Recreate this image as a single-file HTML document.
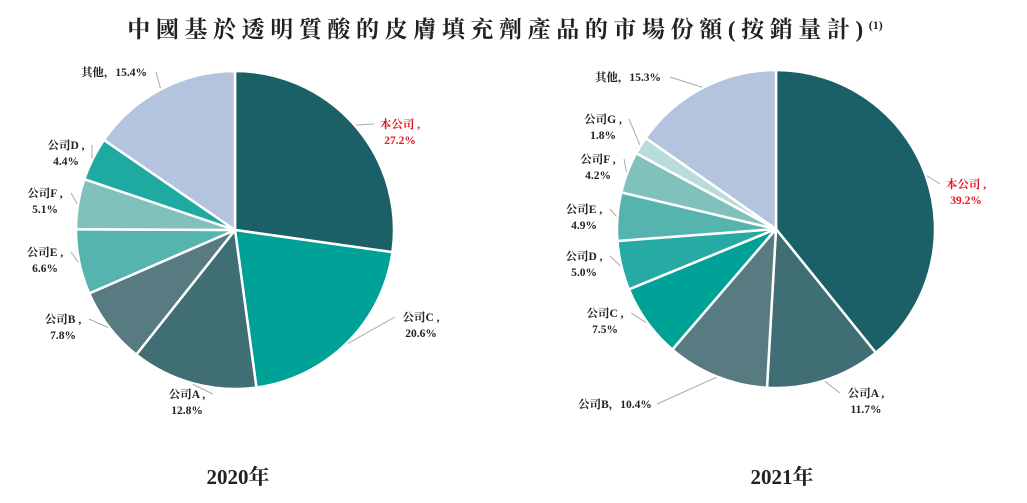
<!DOCTYPE html>
<html><head><meta charset="utf-8"><style>
body{margin:0;background:#fff;width:1027px;height:498px;overflow:hidden}
svg text{font-family:"Liberation Serif","Noto Serif CJK SC","Noto Sans CJK SC",serif;font-weight:bold}
</style></head><body>
<svg id="chart" width="1027" height="498" viewBox="0 0 1027 498">
<text x="505" y="37" text-anchor="middle" font-size="23" fill="#222" letter-spacing="5.6">中國基於透明質酸的皮膚填充劑產品的市場份額(按銷量計)<tspan font-size="12" dy="-8" letter-spacing="0">(1)</tspan></text>
<text x="238" y="484" text-anchor="middle" font-size="21" fill="#222">2020年</text>
<text x="782" y="484" text-anchor="middle" font-size="21" fill="#222">2021年</text>
<g id="pie1"></g>
<g id="pie2"></g>
</svg>
<script>
const names2020=["本公司","公司C","公司A","公司B","公司E","公司F","公司D","其他"];
const values2020=[27.2,20.6,12.8,7.8,6.6,5.1,4.4,15.4];
const names2021=["本公司","公司A","公司B","公司C","公司D","公司E","公司F","公司G","其他"];
const values2021=[39.2,11.7,10.4,7.5,5.0,4.9,4.2,1.8,15.3];

const colors2020=["#1b5f67","#00a196","#3f6e74","#577b80","#55b5ae","#80c1bc","#1ea9a1","#b4c3de"];
const colors2021=["#1b5f67","#3f6e74","#577b80","#00a196","#27aaa3","#55b5ae","#80c1bc","#b8dcd9","#b4c3de"];
// label layout: [x, y, oneLine]
const lab2020=[[400,128,0],[421,321,0],[187,398,0],[63,323,0],[45,256,0],[45,197,0],[66,149,0],[114,76,1]];
const lab2021=[[966,188,0],[866,397,0],[615,408,1],[605,317,0],[584,260,0],[584,213,0],[598,163,0],[603,123,0],[628,81,1]];
const NS="http://www.w3.org/2000/svg";
function el(t,a,p){const e=document.createElementNS(NS,t);for(const k in a)e.setAttribute(k,a[k]);p.appendChild(e);return e;}
function drawPie(g,names,vals,cols,labs,cx,cy,r,key){
  const tot=vals.reduce((a,b)=>a+b,0);let a0=-Math.PI/2;
  vals.forEach((v,i)=>{
    const a1=a0+v/tot*2*Math.PI;
    const x0=cx+r*Math.cos(a0),y0=cy+r*Math.sin(a0),x1=cx+r*Math.cos(a1),y1=cy+r*Math.sin(a1);
    const big=(a1-a0)>Math.PI?1:0;
    const p=el('path',{d:`M${cx},${cy}L${x0},${y0}A${r},${r} 0 ${big} 1 ${x1},${y1}Z`,fill:cols[i],stroke:'#fff','stroke-width':2.5},g);
    
    
    const am=(a0+a1)/2,L=labs[i];
    const ax=cx+(r+1)*Math.cos(am),ay=cy+(r+1)*Math.sin(am);
    const left=Math.cos(am)<0;
    const half=L[2]?42:26;
    const lx=L[0]+(left?half:-half),ly=L[1]+(L[2]?-4:-4);
    const ln=el('polyline',{points:`${ax},${ay} ${lx},${ly}`,fill:'none',stroke:'#aaa','stroke-width':1},g);
    
    
    const red=i===0;
    const fill=red?'#e8141c':'#222';
    const t=el('text',{x:L[0],y:L[1],'text-anchor':'middle','font-size':11.5,fill:fill},g);
    
    
    if(L[2]){t.textContent=names[i]+'，'+vals[i].toFixed(1)+'%';}
    else{
      const s1=el('tspan',{x:L[0]},t);s1.textContent=names[i]+' ,';
      const s2=el('tspan',{x:L[0],dy:16},t);s2.textContent=vals[i].toFixed(1)+'%';
    }
    a0=a1;
  });
}
drawPie(document.getElementById('pie1'),names2020,values2020,colors2020,lab2020,235,230,159,'2020');
drawPie(document.getElementById('pie2'),names2021,values2021,colors2021,lab2021,776,229,159,'2021');
</script>
</body></html>
